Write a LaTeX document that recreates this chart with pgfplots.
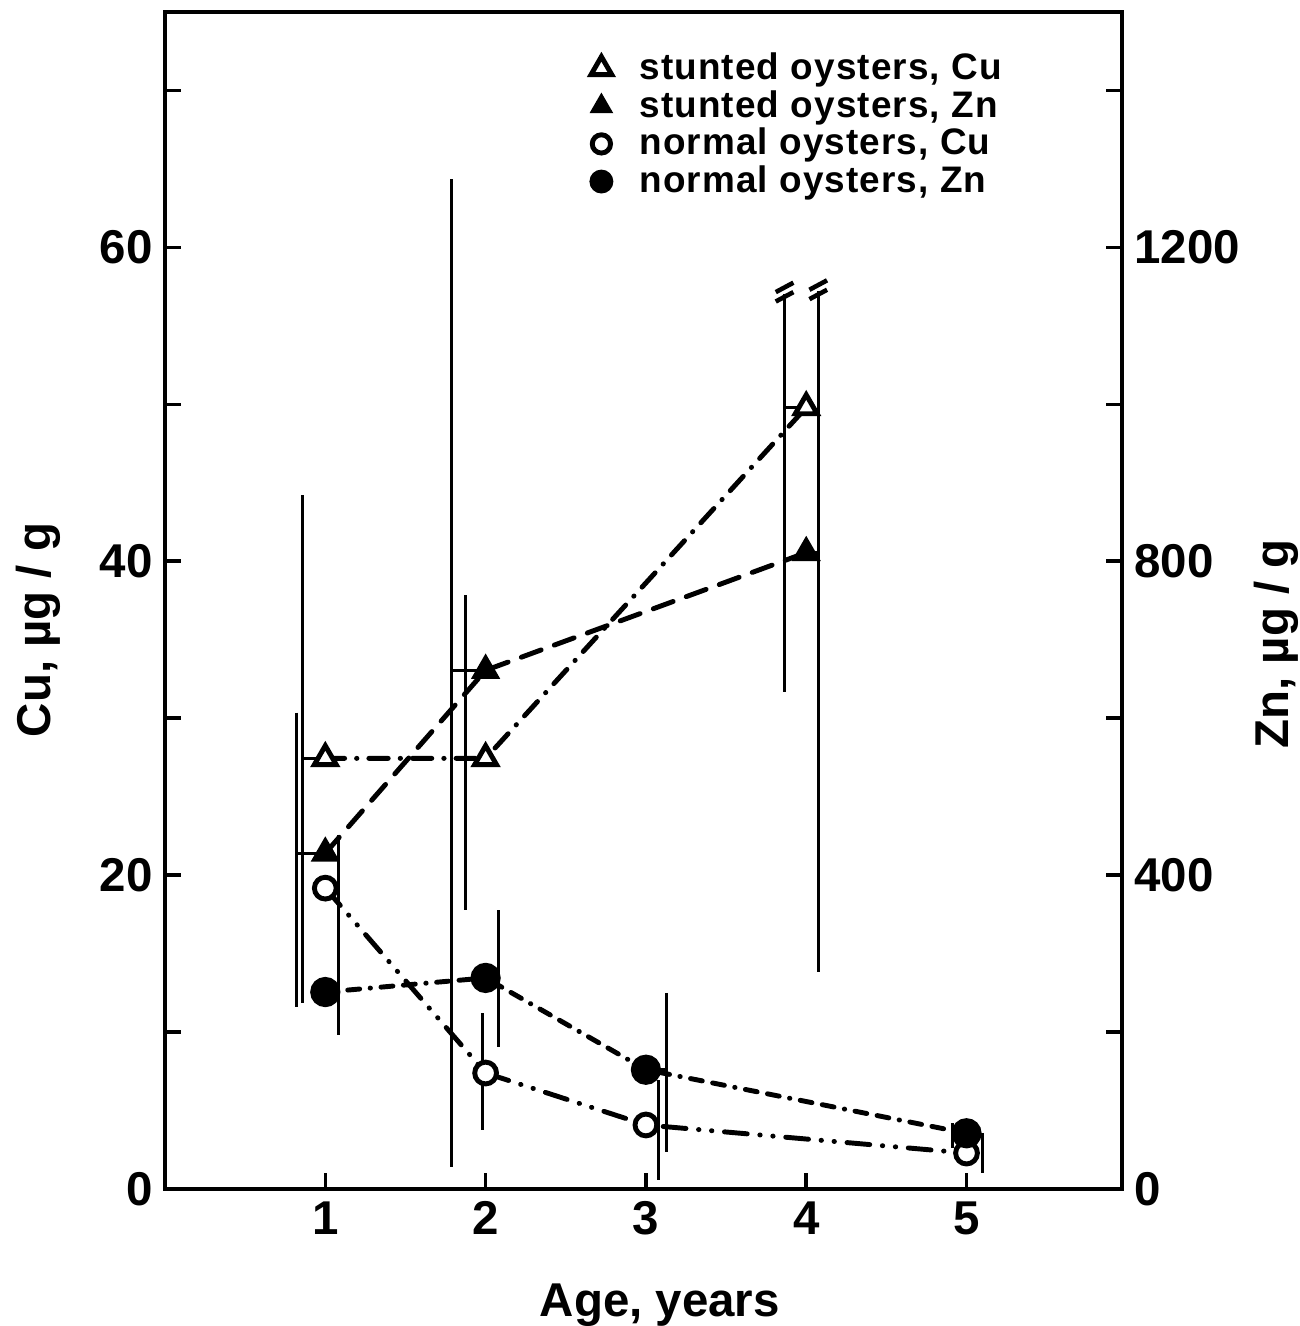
\documentclass[border=0pt]{standalone}
\usepackage{pgfplots}
\pgfplotsset{compat=1.18}
\usepackage{fontspec}
\setmainfont{Liberation Sans}
\newfontfamily\legfont[LetterSpace=3]{Liberation Sans}

\pgfplotsset{
  base/.style={width=9.57cm, height=11.77cm, scale only axis,
    xmin=0, xmax=5.97, ymin=0,
    tick align=inside, major tick length=0.16cm,
    axis line style={line width=1.1pt},
    every tick/.style={black, line width=1pt},
    tick label style={font=\bfseries\fontsize{13.5}{15}\selectfont},
    label style={font=\bfseries\fontsize{13.5}{15}\selectfont, inner sep=0pt, text depth=0pt},
    /pgf/number format/assume math mode=true},
  ebar/.style={black, line width=0.85pt, forget plot},
  ser/.style={black, line width=1.4pt, line cap=round, forget plot},
  dashdot/.style={dash pattern=on 5.5pt off 3.4pt on 0.1pt off 3.4pt},
  longdash/.style={dash pattern=on 6pt off 4pt},
  dashdotdot/.style={dash pattern=on 6.5pt off 3.6pt on 0.1pt off 3.6pt on 0.1pt off 3.6pt},
  dashdashdot/.style={dash pattern=on 3.4pt off 3pt on 3.4pt off 3pt on 0.1pt off 3pt},
}

\begin{document}
\begin{tikzpicture}[font=\bfseries]
% Cu, left axis
\begin{axis}[base, ymax=75,
  ytick={0,10,...,70}, yticklabels={0,,20,,40,,60,},
  xtick={1,2,3,4,5}, xtick pos=bottom, ytick pos=left,
  xlabel={Age, years}, ylabel={Cu, µg / g},
  xlabel style={at={(axis description cs:0.517,-0.108)}, anchor=base},
  ylabel style={at={(axis description cs:-0.120,0.475)}, anchor=base},
  legend style={draw=none, fill=none, at={(axis description cs:0.4325,0.978)}, anchor=north west,
    font=\legfont\bfseries\fontsize{10.5}{11}\selectfont, row sep=-2.4pt},
  legend cell align=left]

\addlegendimage{only marks, mark=triangle*, mark size=3.4pt, mark options={solid, fill=white, line width=1.4pt}}
\addlegendentry{\hspace{0.2cm}stunted oysters, Cu}
\addlegendimage{only marks, mark=triangle*, mark size=3.5pt, mark options={solid, fill=black}}
\addlegendentry{\hspace{0.2cm}stunted oysters, Zn}
\addlegendimage{only marks, mark=*, mark size=2.6pt, mark options={solid, fill=white, line width=1.4pt}}
\addlegendentry{\hspace{0.2cm}normal oysters, Cu}
\addlegendimage{only marks, mark=*, mark size=3.2pt, mark options={solid, fill=black}}
\addlegendentry{\hspace{0.2cm}normal oysters, Zn}

% error bars, Cu
\addplot[ebar] coordinates {(0.86,44.19) (0.86,11.84)};
\addplot[ebar] coordinates {(0.86,27.44) (1,27.44)};
\addplot[ebar] coordinates {(1.875,37.82) (1.875,17.76)};
\addplot[ebar] coordinates {(1.875,27.44) (2,27.44)};
\addplot[ebar] coordinates {(3.865,57.05) (3.865,31.65)};
\addplot[ebar] coordinates {(3.865,49.8) (4,49.8)};
\addplot[ebar, line width=1.3pt] coordinates {(3.81,56.55) (3.92,57.15)};
\addplot[ebar, line width=1.3pt] coordinates {(3.81,57.15) (3.92,57.75)};
\addplot[ebar] coordinates {(1,19.17) (1.08,19.17)};
\addplot[ebar] coordinates {(1.98,11.2) (1.98,3.76)};
\addplot[ebar] coordinates {(3.08,6.94) (3.08,0.57)};
\addplot[ebar] coordinates {(5.1,3.57) (5.1,1.02)};

% stunted oysters, Cu
\addplot[ser, dashdot, mark=triangle*, mark size=3.6pt, mark options={solid, fill=white, line width=1.4pt}]
  coordinates {(1,27.44) (2,27.44) (4,49.8)};
% normal oysters, Cu
\addplot[ser, dashdotdot, mark=*, mark size=3.1pt, mark options={solid, fill=white, line width=1.4pt}]
  coordinates {(1,19.17) (2,7.39) (3,4.08) (5,2.29)};
\end{axis}

% Zn, right axis
\begin{axis}[base, ymax=1500,
  axis x line=none, axis y line*=right,
  ytick={0,200,...,1400}, yticklabels={0,,400,,800,,1200,},
  ylabel={Zn, µg / g},
  ylabel style={at={(axis description cs:1.1735,0.463)}, anchor=base}]

% error bars, Zn
\addplot[ebar] coordinates {(0.82,607) (0.82,232)};
\addplot[ebar] coordinates {(0.82,428) (1,428)};
\addplot[ebar] coordinates {(1.79,1287) (1.79,28)};
\addplot[ebar] coordinates {(1.79,661) (2,661)};
\addplot[ebar] coordinates {(4.075,1145) (4.075,276)};
\addplot[ebar] coordinates {(4,811) (4.075,811)};
\addplot[ebar, line width=1.3pt] coordinates {(4.02,1134) (4.13,1146)};
\addplot[ebar, line width=1.3pt] coordinates {(4.02,1146) (4.13,1158)};
\addplot[ebar] coordinates {(1.08,451) (1.08,196)};
\addplot[ebar] coordinates {(1,251) (1.08,251)};
\addplot[ebar] coordinates {(2.08,355) (2.08,181)};
\addplot[ebar] coordinates {(2,269) (2.08,269)};
\addplot[ebar] coordinates {(3.13,250) (3.13,47)};
\addplot[ebar] coordinates {(3,152) (3.13,152)};
\addplot[ebar] coordinates {(4.91,84) (4.91,52)};

% stunted oysters, Zn
\addplot[ser, longdash, mark=triangle*, mark size=3.4pt, mark options={solid, fill=black}]
  coordinates {(1,428) (2,661) (4,811)};
% normal oysters, Zn
\addplot[ser, dashdashdot, mark=*, mark size=3.6pt, mark options={solid, fill=black}]
  coordinates {(1,251) (2,269) (3,152) (5,71)};
\end{axis}

\path (current axis.south west) ++(-1.65cm,-1.37cm);
\path (current axis.north east) ++(1.78cm,0.12cm);
\end{tikzpicture}
\end{document}
